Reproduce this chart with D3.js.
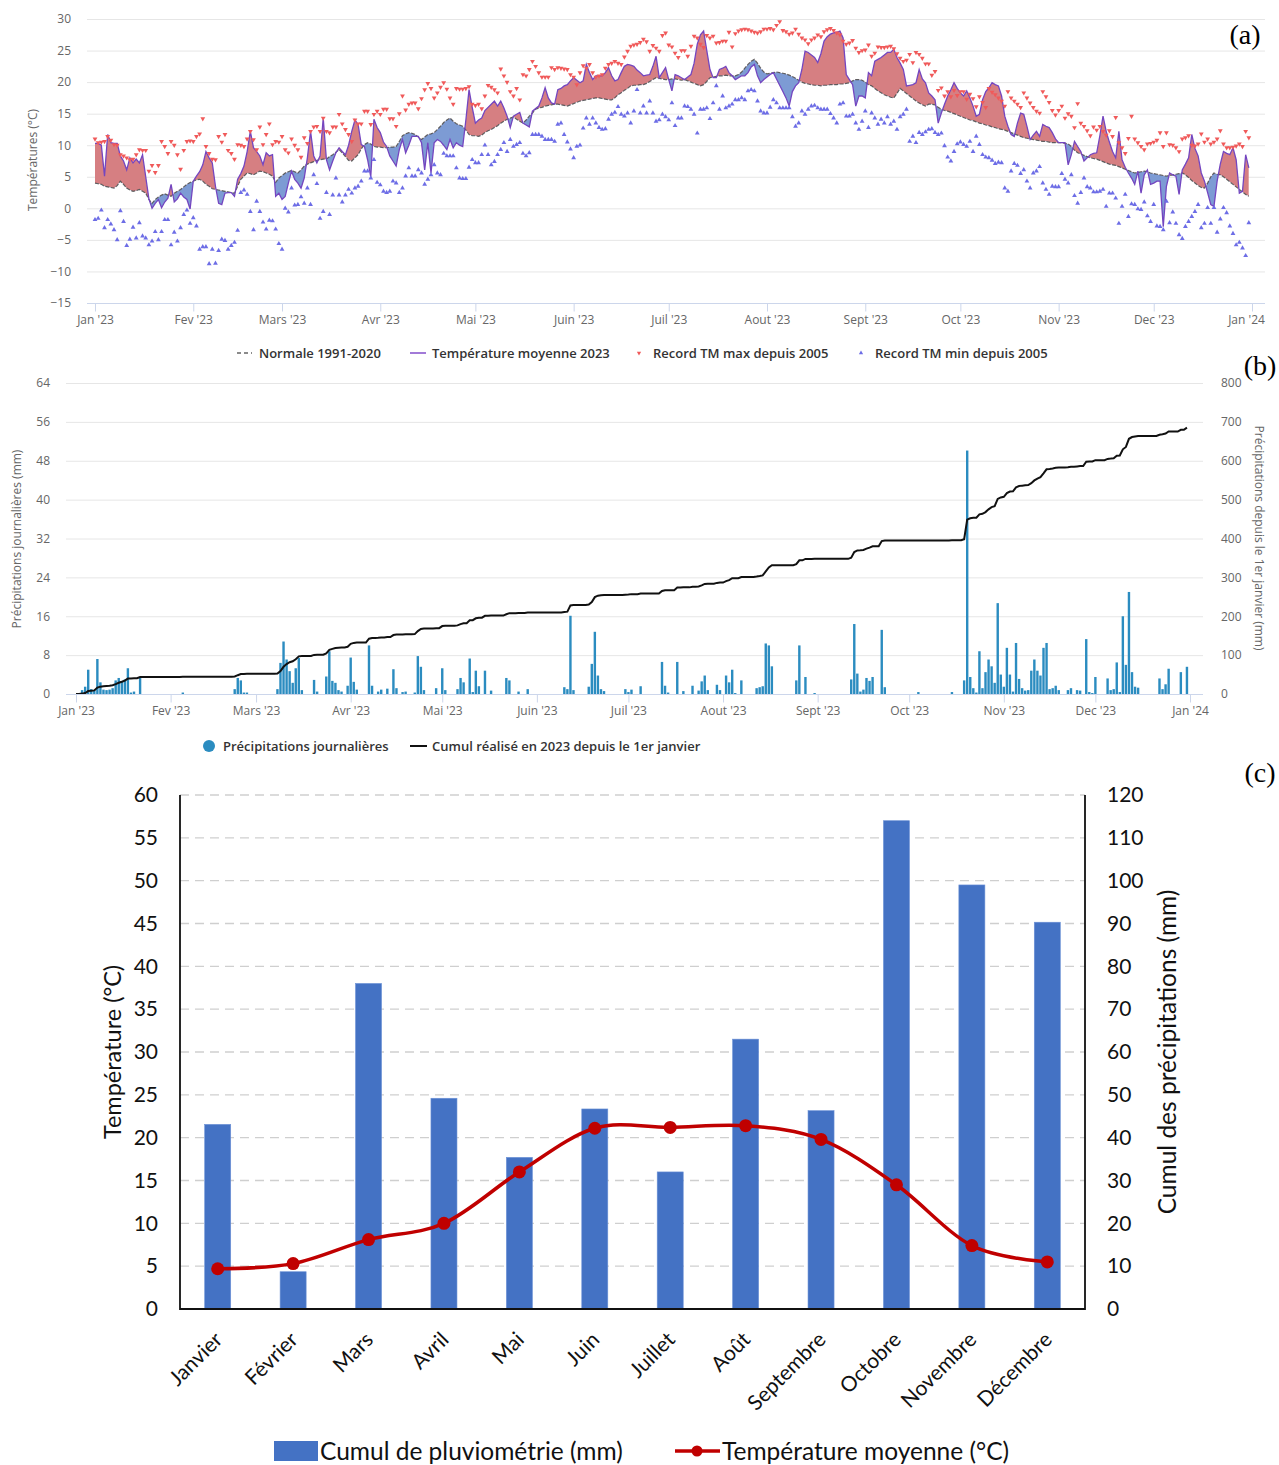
<!DOCTYPE html>
<html><head><meta charset="utf-8">
<script src="https://cdn.jsdelivr.net/npm/d3@7"></script>
<style>body{margin:0;background:#fff}svg{display:block}</style>
</head><body>
<svg id="chart" width="1279" height="1465"></svg>
<script>
// ================= DATA =================
// Panel (a) & (b): month ticks (day index from 1 Jan 2023)
const monthTickDays = [0,31,59,90,120,151,181,212,243,273,304,334,365];
const monthTickLabels = ["Jan '23","Fev '23","Mars '23","Avr '23","Mai '23","Juin '23","Juil '23","Aout '23","Sept '23","Oct '23","Nov '23","Dec '23","Jan '24"];
const tempTicks = [-15,-10,-5,0,5,10,15,20,25,30];

// Panel (a): daily mean temperature 2023 (°C)
const tempMean2023 = [
10.3,10.3,10.0,5.1,11.7,10.4,10.3,10.3,8.3,7.5,6.1,8.0,7.2,7.8,7.2,8.5,5.0,1.5,0.0,0.8,1.4,0.1,1.0,1.6,3.8,1.0,1.5,2.4,1.8,1.4,-0.1,
4.3,5.1,5.8,6.9,9.0,8.0,7.2,3.5,0.8,0.6,2.4,2.5,2.5,1.9,4.6,5.5,6.7,9.0,12.2,9.6,9.0,8.3,6.9,8.8,8.3,8.5,1.9,2.4,
1.4,1.9,4.0,5.9,4.6,4.0,3.2,4.8,8.0,12.2,8.3,7.2,8.3,14.3,7.7,6.1,7.5,8.8,9.6,9.0,8.5,10.0,12.2,14.0,13.3,10.1,9.8,7.7,5.0,14.1,12.8,
12.0,10.5,9.8,8.3,7.5,6.7,9.3,10.9,8.8,10.0,11.4,11.4,11.4,10.4,6.1,10.4,5.6,10.4,10.9,10.6,10.0,9.3,10.9,9.6,10.4,10.0,9.8,14.0,18.8,16.0,
13.5,14.0,14.3,15.5,16.0,16.5,17.0,16.2,17.0,15.9,14.6,12.8,14.6,14.9,15.2,13.5,13.2,12.9,15.4,15.8,16.2,17.5,19.1,17.5,16.7,16.5,18.8,19.0,19.4,19.6,20.2,
20.7,20.3,19.9,20.2,22.8,21.5,20.4,21.0,21.0,21.0,21.5,22.3,21.0,20.2,20.4,21.5,22.5,22.8,22.7,22.5,21.9,21.5,21.0,21.1,21.2,22.5,24.1,20.7,21.5,22.3,
20.4,18.6,21.2,21.0,20.7,20.4,20.8,21.2,23.0,26.0,27.5,28.1,25.0,22.0,20.7,20.7,22.0,22.2,22.5,21.5,21.0,20.4,20.7,21.0,21.0,21.5,22.4,22.8,21.0,19.9,20.4,
20.8,21.2,21.5,20.5,19.5,18.5,17.5,16.2,18.5,19.4,19.9,22.0,24.9,24.7,24.3,23.9,23.1,24.5,26.5,27.2,27.6,27.8,27.9,28.1,27.0,21.2,20.4,19.6,16.2,17.8,17.8,
17.5,21.5,21.0,23.3,23.6,23.9,24.3,24.7,24.7,25.2,23.9,23.0,22.0,19.4,19.5,19.6,19.9,22.0,20.5,19.9,18.3,17.8,17.2,13.5,15.1,16.5,17.8,18.8,19.9,19.0,
18.3,17.8,18.6,17.5,16.2,14.6,14.9,17.2,18.5,19.1,19.9,19.6,19.4,17.8,14.6,13.0,11.7,11.4,13.5,15.1,14.9,13.0,10.9,11.6,12.2,11.4,13.3,13.0,12.8,12.0,11.0,
10.4,10.4,10.4,6.9,8.5,10.6,9.8,9.0,7.5,8.0,8.5,8.7,8.8,11.5,14.6,12.2,10.5,9.0,8.0,12.2,7.7,6.5,5.6,4.8,3.8,5.9,2.4,5.3,6.1,3.8,
4.0,4.3,4.3,-2.9,3.5,5.6,5.3,5.1,2.2,6.1,7.0,8.0,11.7,9.5,8.3,5.6,4.3,2.5,0.6,0.3,4.3,7.0,9.0,8.7,8.5,9.6,7.7,2.4,2.7,8.5,6.4
];
// Panel (a): daily normal 1991-2020 (°C)
const tempNormal = [
4.0,3.9,3.8,3.5,3.4,3.3,3.2,3.6,4.3,3.8,3.2,2.9,2.7,2.8,3.0,2.7,2.4,1.4,0.8,1.4,1.8,2.1,2.3,2.1,1.9,2.4,2.7,3.0,3.4,3.8,4.1,
4.3,4.5,4.6,4.3,3.8,3.5,3.1,3.0,2.9,2.8,2.7,2.6,2.5,2.4,3.5,4.6,5.1,5.6,5.5,5.3,5.6,5.9,5.8,5.6,5.4,5.1,4.1,4.8,
5.2,5.6,5.8,6.0,5.8,5.6,6.1,6.7,7.0,7.2,7.4,7.6,7.7,7.8,7.8,8.2,8.5,8.9,9.3,8.8,8.2,7.6,7.5,8.0,8.5,9.4,10.1,10.4,10.2,9.8,9.7,
9.7,9.6,9.6,9.7,9.7,9.8,10.6,11.5,11.8,12.0,11.9,11.7,11.3,10.9,11.3,11.7,11.8,12.0,12.5,13.0,13.6,14.0,14.3,13.8,13.4,13.2,13.0,12.4,11.7,11.5,
11.5,11.4,11.6,12.0,12.3,12.5,12.8,13.1,13.5,13.8,14.1,14.3,14.5,14.1,13.8,13.5,14.0,14.6,15.1,15.7,15.9,16.0,16.2,16.3,16.4,16.5,16.5,16.4,16.3,16.2,16.4,
16.6,16.8,17.0,17.1,17.2,17.3,17.4,17.5,17.5,17.4,17.3,17.2,17.2,17.5,18.0,18.3,18.7,19.0,19.4,19.5,19.5,19.6,19.6,19.8,20.1,20.4,20.7,20.6,20.5,20.4,
20.4,20.5,20.5,20.4,20.3,20.4,20.2,20.0,19.8,19.6,19.4,19.6,20.1,20.7,20.8,20.9,21.0,21.0,21.1,21.0,21.0,21.0,21.2,21.6,22.2,22.8,23.3,23.6,23.0,22.2,21.6,
21.3,21.4,21.5,21.6,21.5,21.4,21.3,21.1,20.9,20.6,20.3,20.0,19.8,19.7,19.6,19.5,19.5,19.4,19.5,19.5,19.6,19.6,19.6,19.7,19.7,19.8,19.9,20.2,20.4,20.4,20.3,
20.0,19.6,19.4,19.0,18.6,18.3,18.0,17.8,17.6,17.5,18.2,19.0,18.6,18.2,17.8,17.4,17.0,16.7,16.4,16.2,16.5,16.5,16.4,16.0,15.7,15.5,15.4,15.2,15.0,14.8,
14.6,14.4,14.2,14.0,13.9,13.7,13.5,13.4,13.2,13.1,12.9,12.8,12.6,12.5,12.4,12.2,12.0,11.8,11.6,11.4,11.2,11.1,11.0,10.9,10.8,10.7,10.6,10.6,10.5,10.4,10.4,
10.4,10.4,10.3,10.2,9.8,9.2,8.8,8.6,8.4,8.2,8.0,7.9,7.8,7.6,7.4,7.2,7.0,6.9,6.8,6.6,6.4,6.2,6.0,5.8,5.6,5.7,5.8,5.9,5.8,5.6,
5.5,5.4,5.3,5.2,5.1,5.2,5.3,5.4,5.5,5.6,5.3,4.9,4.4,4.0,3.6,3.3,3.2,4.0,5.0,5.6,5.4,5.3,5.0,4.6,4.2,3.8,3.4,3.0,2.6,2.2,1.9
];
// Panel (a): record of daily mean max since 2005 (°C)
const recordMax = [
11,10.4,10.5,10.6,11.4,10.8,10.1,10,8.5,8.3,8,7.7,7.8,8.5,9.3,9.2,9.2,5.9,6.8,5.7,6.8,10.6,9.8,8.7,10.6,10,8.5,6.2,9.2,10.6,10.7,
10.6,11.4,11.8,14.2,9.8,8.7,7.8,7.7,11.4,10.5,11.7,9.2,8.7,7.8,10.1,10,9.8,11,12.2,10.9,9.3,12.9,10.1,11.7,13.4,10.1,10.6,10.5,
11.4,9.3,8.8,11,10,9.3,8.1,11.2,10.3,12.2,12.9,13,12.2,14.3,12.2,12,12.9,12.9,14.9,13.4,12.5,11.7,10.6,14,13.4,13.4,15.4,15.4,13.3,14.9,15.4,
14.9,15.7,15.7,14.2,14.2,13,15,17.8,15.6,16.5,16.7,16.7,15.8,17.4,18.8,19.8,19.0,17.5,18.3,19.2,19.9,18.9,17.5,16.5,19.0,18.9,18.9,19.0,19.3,16.5,
16.3,16.5,15.8,17.8,19.5,19.2,18.8,18.3,22.1,21.0,20.0,18.5,17.8,19.0,17.2,21.2,21.0,22.0,23.3,22.5,21.5,20.8,20.8,20.8,22.3,22.0,22.3,22.2,22.1,22.0,21.2,
20.8,19.6,21.5,22.6,22.2,22.8,21.5,20.8,21.0,21.2,22.2,22.8,23.0,23.3,23.0,22.8,24.0,24.9,25.7,25.9,26.0,26.3,26.8,26.4,24.9,25.8,25.4,24.9,27.4,27.8,
25.9,25.6,24.6,23.9,25.0,25.0,24.1,25.7,27.3,27.0,26.0,25.5,27.4,27.0,27.3,26.2,26.3,26.5,26.5,27.9,25.6,27.7,28.1,28.3,28.4,28.3,28.1,27.9,27.8,28.0,28.4,
28.4,28.5,28.3,29.0,29.6,28.2,28.0,27.6,27.8,28.4,27.6,27.0,26.7,26.1,26.7,27.0,27.5,27.2,28.0,28.3,28.5,28.2,27.8,27.5,26.5,26.0,26.2,26.6,25.4,24.7,25.0,
25.1,25.9,24.1,24.6,25.6,25.5,25.5,25.6,25.7,25.3,24.5,23.8,23.3,23.5,24.4,23.1,24.7,24.4,23.8,22.9,22.9,21.1,21.7,18.7,19.1,17.8,18.5,17.7,18.7,17.9,
18.5,18.5,17.3,18.1,17.4,16.1,17.7,16.8,16.0,19.0,18.4,18.0,17.5,17.0,16.2,18.5,17.5,17.0,16.5,16.0,18.3,17.5,16.7,16.0,15.4,15.1,18.5,17.7,16.8,15.5,14.8,
15.5,16.2,14.3,15.0,14.6,12.8,16.6,13.5,13.0,12.3,11.5,12.9,12.4,13.0,12.2,11.6,12.3,11.4,14.4,10.4,9.6,8.7,11.1,14.6,11.0,10.4,9.8,9.3,10.2,10.3,
10.5,10.8,12.0,9.8,12.0,10.1,10.0,9.6,9.0,11.0,11.2,11.5,10.0,9.9,10.2,11.8,10.5,11.0,10.2,10.5,11.0,12.3,10.2,9.6,9.6,9.7,9.9,10.2,9.8,12.2,11.2
];
// Panel (a): record of daily mean min since 2005 (°C)
const recordMin = [
-1.8,-1.6,-0.3,-3.1,-1.8,-2.5,-3.4,-5.0,-0.4,-2.1,-5.9,-4.9,-3.0,-4.7,-2.3,-4.4,-4.7,-5.8,-5.2,-3.7,-5.0,-3.7,-1.8,-1.8,-5.8,-3.8,-5.2,-3.1,-1.0,-0.3,-2.4,
-1.5,-2.8,-6.5,-6.1,-6.1,-8.8,-6.5,-8.7,-6.7,-4.9,-5.1,-6.5,-5.9,-5.4,-3.5,2.5,2.9,2.2,-0.5,-3.4,1.1,-0.5,-2.2,-3.3,-1.9,-2.0,-3.3,-5.6,
-6.5,0,-0.6,3.2,0.5,0.6,1.8,0.8,3.2,0.6,5.3,3.9,-1.6,-0.5,2.5,-1.0,2.1,4.8,2.1,1.0,2.1,3.0,2.4,3.2,3.5,4.3,5.9,5.9,4.8,7.7,4.1,
3.7,2.7,2.5,2.7,4.3,4.0,2.5,3.2,5.1,6.4,5.1,5.1,6.1,5.6,3.8,4.6,5.3,6.9,5.6,5.3,8.7,8.3,8.3,8.3,6.4,4.8,4.7,4.7,6.5,7.7,
7.2,7.2,8.5,10.0,8.5,6.9,7.4,8.5,9.3,10.4,9.0,10.9,9.8,10.1,10.4,8.7,8.3,8.8,11.7,11.7,11.7,11.4,10.9,10.9,10.9,10.6,13.3,13.5,11.7,10.5,9.4,
8.0,9.8,10.0,12.7,14.3,13.3,14.3,13.5,12.8,12.5,12.6,14.1,14.9,15.2,16.1,14.9,14.6,15.1,13.5,15.4,18.8,15.1,16.2,15.1,17.0,15.1,13.8,14.0,14.9,14.5,
14.0,16.7,13.1,14.3,14.3,16.2,16.1,15.7,14.9,11.9,15.7,15.7,15.9,14.2,16.7,19.4,15.7,17.8,15.9,16.2,16.5,17.2,17.2,17.5,17.2,18.6,18.8,18.6,17.0,15.4,15.1,
15.1,16.0,17.2,16.7,15.9,15.9,15.9,15.9,14.5,13.0,13.5,15.4,14.9,15.7,16.2,16.3,15.9,15.7,15.7,15.7,15.0,14.3,13.5,16.5,16.7,14.6,14.6,14.9,13.5,12.5,13.8,
15.4,12.8,15.1,14.3,13.3,14.1,13.5,14.5,13.3,13.8,12.5,14.5,14.9,15.7,10.6,11.4,10.4,12.0,11.7,12.1,12.5,12.6,12.0,11.7,11.9,9.9,8.1,7.5,9.0,10.2,
10.5,10.1,9.8,10.6,9.0,11.4,10.1,8.5,8.1,8.0,7.6,7.1,7.3,7.2,3.2,2.7,5.9,7.1,6.8,5.5,6.1,4.3,3.2,5.6,5.9,6.6,4.0,3.0,2.2,3.5,3.4,
3.4,5.5,4.6,4.0,5.3,2.0,0.8,2.5,4.8,3.4,3.2,2.6,2.6,2.7,3.0,0.3,2.4,2.4,1.6,-2.4,0.3,2.2,-1.3,0.7,0.6,-0.1,-0.2,1.0,-1.2,-2.1,
0.6,-2.8,-2.9,-3.4,1.1,-2.3,-0.6,-2.4,-4.2,-4.8,-2.9,-2.1,-1.3,-0.5,0.6,-3.1,-2.4,0.1,-2.4,0.1,-3.8,-1.7,0.1,-0.7,-2.8,-4.0,-5.8,-5.4,-6.3,-7.5,-2.3
];

// Panel (b): daily precipitation 2023 (mm)
const precipDaily = [
0,0.2,0.8,1.5,5.0,1.0,0.8,7.2,2.4,0.9,0.8,0.9,1.2,2.8,3.3,2.6,3.0,5.3,0.3,0.5,0,3.3,0,0,0,0,0,0,0,0,0,
0,0,0,0,0.3,0,0,0,0,0,0,0,0,0,0,0,0,0,0,0,0,1.0,3.3,2.8,0.3,0.3,0,0,
0,0,0,0,0,0,0,1.0,6.4,10.8,7.1,4.7,2.3,5.3,7.4,0.8,0,0,0,2.9,0.5,0,0,3.6,8.8,2.7,2.3,0.8,0.5,0,1.7,
7.5,2.5,0.9,0,0,0,10.0,1.7,0,0.5,0.9,0,1.1,0,5.1,1.2,0,0.4,0.5,0,0,0.3,7.8,5.6,0.8,0,0,0,1.2,0,
5.3,0.8,0,0,0,1.0,3.3,2.4,0,7.3,0.4,4.8,1.6,0,4.8,0,0.7,0,0,0,0,3.3,2.8,0,0,0.5,0,0,1.0,0,0,
0,0,0,0,0,0,0,0,0,1.4,1.0,16.1,0.8,0,0,0,0,1.5,6.2,12.8,3.8,1.0,0.6,0,0,0,0,0,0,1.0,
0.4,0.9,0,0,1.6,0,0,0,0,0,0,6.6,1.7,0.3,0,0,6.6,0,0.6,0,0,1.7,0,0.7,2.6,3.8,0.8,0,0,1.9,0.8,
0,3.8,2.4,5.0,0.2,0,2.8,0,0,0,0,1.2,1.4,1.6,10.4,10.0,5.7,0,0,0,0,0,0,0,2.8,10.0,0,3.5,0,0,0.2,
0,0,0,0,0,0,0,0,0,0,0,3.0,14.4,4.2,0.5,0.9,3.3,2.7,3.5,0,0,13.2,1.4,0,0,0,0,0,0,0,
0,0,0,0.4,0,0,0,0,0,0,0,0,0,0,0.4,0,0,0,2.8,50.1,3.5,1.2,0.3,8.8,1.2,4.5,7.1,5.7,2.3,18.7,4.0,
1.5,9.5,4.0,0.5,10.5,3.1,1.2,0.7,0.8,4.8,7.1,4.8,3.8,9.5,10.5,1.0,1.2,1.7,0.8,0,0,0.8,1.2,0,0.8,0.7,0,11.3,0.4,0.2,
3.5,0,0,0,3.2,0.8,1.0,6.5,0.4,16.0,6.0,21.0,4.5,1.5,1.3,0,0,0,0,0,0,3.2,1.0,2.0,5.2,0,0,0,4.5,0,5.6
];
const precipLeftTicks = [0,8,16,24,32,40,48,56,64];
const precipRightTicks = [0,100,200,300,400,500,600,700,800];

// Panel (c): monthly values
const monthsFr = ["Janvier","Février","Mars","Avril","Mai","Juin","Juillet","Août","Septembre","Octobre","Novembre","Décembre"];
const monthlyRain = [43.1,8.7,76.0,49.2,35.4,46.7,32.0,63.0,46.3,114.0,99.0,90.3];
const monthlyTemp = [4.7,5.3,8.1,10.0,16.0,21.1,21.2,21.4,19.8,14.5,7.4,5.5];
const tempTicksC = [0,5,10,15,20,25,30,35,40,45,50,55,60];
const rainTicksC = [0,10,20,30,40,50,60,70,80,90,100,110,120];

// ================= DRAWING =================
const svg = d3.select("#chart");
svg.append("rect").attr("width",1279).attr("height",1465).attr("fill","#fff");
const hcFont = "'Open Sans', sans-serif";
const days = d3.range(tempMean2023.length);

// ---------- Panel (a) ----------
const A = {left:87, right:1265};
const xA = d3.scaleLinear().domain([0,365]).range([95,1252]);
const yA = d3.scaleLinear().domain([-15,30]).range([303,19]);
const gA = svg.append("g").attr("font-family",hcFont);
const fmtMinus = d => d < 0 ? "\u2212" + Math.abs(d) : String(d);

const gyA = gA.append("g").attr("transform",`translate(${A.left},0)`)
  .call(d3.axisLeft(yA).tickValues(tempTicks).tickSize(-(A.right-A.left)).tickPadding(16).tickFormat(fmtMinus));
gyA.select(".domain").remove();
gyA.selectAll(".tick line").attr("stroke","#e6e6e6");
gyA.selectAll(".tick text").attr("fill","#666").attr("font-size",12).attr("font-family",hcFont);

const defs = svg.append("defs");
const clipAbove = d3.area().x(d=>xA(d)).y0(0).y1(d=>yA(tempNormal[d]));
const clipBelow = d3.area().x(d=>xA(d)).y0(340).y1(d=>yA(tempNormal[d]));
defs.append("clipPath").attr("id","cAbove").append("path").attr("d",clipAbove(days));
defs.append("clipPath").attr("id","cBelow").append("path").attr("d",clipBelow(days));
const between = d3.area().x(d=>xA(d)).y0(d=>yA(tempNormal[d])).y1(d=>yA(tempMean2023[d]));
gA.append("path").attr("d",between(days)).attr("fill","#d67f82").attr("clip-path","url(#cAbove)");
gA.append("path").attr("d",between(days)).attr("fill","#7d9bd4").attr("clip-path","url(#cBelow)");

gA.append("path").attr("d",d3.line().x(d=>xA(d)).y(d=>yA(tempNormal[d]))(days))
  .attr("fill","none").attr("stroke","#4a4a4a").attr("stroke-width",1.2).attr("stroke-dasharray","4,1.5").attr("opacity",0.85);
gA.append("path").attr("d",d3.line().x(d=>xA(d)).y(d=>yA(tempMean2023[d]))(days))
  .attr("fill","none").attr("stroke","#7446c0").attr("stroke-width",1.3);

const tri = d3.symbol().type(d3.symbolTriangle).size(10);
gA.append("g").selectAll("path").data(days).join("path")
  .attr("d",tri).attr("fill","#f05a5a")
  .attr("transform",d=>`translate(${xA(d)},${yA(recordMax[d])}) rotate(180)`);
gA.append("g").selectAll("path").data(days).join("path")
  .attr("d",tri).attr("fill","#6d6de6")
  .attr("transform",d=>`translate(${xA(d)},${yA(recordMin[d])})`);

// x axis (a)
gA.append("line").attr("x1",A.left).attr("x2",A.right).attr("y1",303.5).attr("y2",303.5).attr("stroke","#ccd6eb");
const gxA = gA.append("g").attr("transform","translate(0,303.5)")
  .call(d3.axisBottom(xA).tickValues(monthTickDays).tickSize(8).tickPadding(4).tickFormat((d,i)=>monthTickLabels[i]));
gxA.select(".domain").remove();
gxA.selectAll(".tick line").attr("stroke","#ccd6eb");
gxA.selectAll(".tick text").attr("fill","#666").attr("font-size",12).attr("font-family",hcFont);
gxA.selectAll(".tick text").filter((d,i)=>i===monthTickDays.length-1).attr("dx",-6);

gA.append("text").attr("transform","translate(37,160) rotate(-90)").attr("text-anchor","middle")
  .attr("fill","#666").attr("font-size",12).text("Températures (°C)");

// legend (a)
const lgA = gA.append("g").attr("font-size",13).attr("font-weight",600).attr("fill","#333");
lgA.append("line").attr("x1",237).attr("x2",252).attr("y1",353).attr("y2",353).attr("stroke","#666").attr("stroke-width",1.5).attr("stroke-dasharray","4,3");
lgA.append("text").attr("x",259).attr("y",353).attr("dy","0.35em").text("Normale 1991-2020");
lgA.append("line").attr("x1",410).attr("x2",426).attr("y1",353).attr("y2",353).attr("stroke","#a27ad8").attr("stroke-width",2);
lgA.append("text").attr("x",432).attr("y",353).attr("dy","0.35em").text("Température moyenne 2023");
lgA.append("path").attr("d",d3.symbol().type(d3.symbolTriangle).size(8)).attr("fill","#f05a5a").attr("transform","translate(639,353) rotate(180)");
lgA.append("text").attr("x",653).attr("y",353).attr("dy","0.35em").text("Record TM max depuis 2005");
lgA.append("path").attr("d",d3.symbol().type(d3.symbolTriangle).size(8)).attr("fill","#6d6de6").attr("transform","translate(861,353)");
lgA.append("text").attr("x",875).attr("y",353).attr("dy","0.35em").text("Record TM min depuis 2005");

// ---------- Panel (b) ----------
const B = {left:66, right:1203};
const xB = d3.scaleLinear().domain([0,365]).range([76,1190]);
const yBL = d3.scaleLinear().domain([0,64]).range([694,383]);
const yBR = d3.scaleLinear().domain([0,800]).range([694,383]);
const gB = svg.append("g").attr("font-family",hcFont);
const gyB = gB.append("g").attr("transform",`translate(${B.left},0)`)
  .call(d3.axisLeft(yBL).tickValues(precipLeftTicks).tickSize(-(B.right-B.left)).tickPadding(16));
gyB.select(".domain").remove();
gyB.selectAll(".tick line").attr("stroke","#e6e6e6");
gyB.selectAll(".tick text").attr("fill","#666").attr("font-size",12).attr("font-family",hcFont);
const gyB2 = gB.append("g").attr("transform",`translate(${B.right},0)`)
  .call(d3.axisRight(yBR).tickValues(precipRightTicks).tickSize(0).tickPadding(18));
gyB2.select(".domain").remove();
gyB2.selectAll(".tick text").attr("fill","#666").attr("font-size",12).attr("font-family",hcFont);

gB.append("g").selectAll("rect").data(days.filter(d=>precipDaily[d]>0)).join("rect")
  .attr("x",d=>xB(d)-1.2).attr("width",2.4)
  .attr("y",d=>yBL(precipDaily[d])).attr("height",d=>yBL(0)-yBL(precipDaily[d]))
  .attr("fill","#2b8cc0");

const cumul = Array.from(d3.cumsum(precipDaily));
gB.append("path").attr("d",d3.line().x(d=>xB(d)).y(d=>yBR(cumul[d]))(days))
  .attr("fill","none").attr("stroke","#111").attr("stroke-width",2);

gB.append("line").attr("x1",B.left).attr("x2",B.right).attr("y1",694.5).attr("y2",694.5).attr("stroke","#ccd6eb");
const gxB = gB.append("g").attr("transform","translate(0,694.5)")
  .call(d3.axisBottom(xB).tickValues(monthTickDays).tickSize(8).tickPadding(4).tickFormat((d,i)=>monthTickLabels[i]));
gxB.select(".domain").remove();
gxB.selectAll(".tick line").attr("stroke","#ccd6eb");
gxB.selectAll(".tick text").attr("fill","#666").attr("font-size",12).attr("font-family",hcFont);

gB.append("text").attr("transform","translate(21,539) rotate(-90)").attr("text-anchor","middle")
  .attr("fill","#666").attr("font-size",12).text("Précipitations journalières (mm)");
gB.append("text").attr("transform","translate(1255,538) rotate(90)").attr("text-anchor","middle")
  .attr("fill","#666").attr("font-size",12).text("Précipitations depuis le 1er janvier (mm)");

const lgB = gB.append("g").attr("font-size",13).attr("font-weight",600).attr("fill","#333");
lgB.append("circle").attr("cx",209).attr("cy",746).attr("r",6).attr("fill","#2b8cc0");
lgB.append("text").attr("x",223).attr("y",746).attr("dy","0.35em").text("Précipitations journalières");
lgB.append("line").attr("x1",410).attr("x2",427).attr("y1",746).attr("y2",746).attr("stroke","#111").attr("stroke-width",2);
lgB.append("text").attr("x",432).attr("y",746).attr("dy","0.35em").text("Cumul réalisé en 2023 depuis le 1er janvier");

// ---------- Panel (c) ----------
const cFont = "Lato, 'Open Sans', sans-serif";
const C = {left:180, right:1085, top:795, bottom:1309};
const xC = d3.scaleBand().domain(monthsFr).range([C.left,C.right]).paddingInner(0.655).paddingOuter(0.3275);
const yCL = d3.scaleLinear().domain([0,60]).range([C.bottom,C.top]);
const yCR = d3.scaleLinear().domain([0,120]).range([C.bottom,C.top]);
const gC = svg.append("g").attr("font-family",cFont);

const gyC = gC.append("g").attr("transform",`translate(${C.left},0)`)
  .call(d3.axisLeft(yCL).tickValues(tempTicksC).tickSize(0).tickPadding(22));
gyC.select(".domain").remove();
gyC.selectAll(".tick text").attr("fill","#111").attr("font-size",21).attr("font-family",cFont);
const gyC2 = gC.append("g").attr("transform",`translate(${C.right},0)`)
  .call(d3.axisRight(yCR).tickValues(rainTicksC).tickSize(0).tickPadding(22));
gyC2.select(".domain").remove();
gyC2.selectAll(".tick text").attr("fill","#111").attr("font-size",21).attr("font-family",cFont);

// dashed gridlines
gC.append("g").selectAll("line").data(tempTicksC.filter(v=>v>0)).join("line")
  .attr("x1",C.left).attr("x2",C.right).attr("y1",d=>yCL(d)).attr("y2",d=>yCL(d))
  .attr("stroke","#cfcfcf").attr("stroke-width",1.3).attr("stroke-dasharray","9,6");

// bars
gC.append("g").selectAll("rect").data(monthsFr).join("rect")
  .attr("x",m=>xC(m)).attr("width",xC.bandwidth())
  .attr("y",(m,i)=>yCR(monthlyRain[i])).attr("height",(m,i)=>yCR(0)-yCR(monthlyRain[i]))
  .attr("fill","#4472c4").attr("stroke","#6b91d6").attr("stroke-width",0.6);

// axes lines
gC.append("path").attr("d",`M${C.left},${C.top}V${C.bottom}H${C.right}V${C.top}`)
  .attr("fill","none").attr("stroke","#111").attr("stroke-width",1.8);

// temperature line
const cx = m => xC(m) + xC.bandwidth()/2;
const tempPts = monthsFr.map((m,i)=>[cx(m), yCL(monthlyTemp[i])]);
gC.append("path").attr("d",d3.line().curve(d3.curveCardinal.tension(0))(tempPts))
  .attr("fill","none").attr("stroke","#c00000").attr("stroke-width",3.5);
gC.append("g").selectAll("circle").data(tempPts).join("circle")
  .attr("cx",d=>d[0]).attr("cy",d=>d[1]).attr("r",6.5).attr("fill","#c00000");

// x labels rotated
gC.append("g").selectAll("text").data(monthsFr).join("text")
  .attr("transform",m=>`translate(${cx(m)+6},${C.bottom+32}) rotate(-45)`)
  .attr("text-anchor","end").attr("font-size",21).attr("fill","#111").text(m=>m);

// axis titles
gC.append("text").attr("transform","translate(121,1052) rotate(-90)").attr("text-anchor","middle")
  .attr("font-size",23.5).attr("fill","#111").text("Température (°C)");
gC.append("text").attr("transform","translate(1176,1052) rotate(-90)").attr("text-anchor","middle")
  .attr("font-size",24.5).attr("fill","#111").text("Cumul des précipitations (mm)");

// legend (c)
gC.append("rect").attr("x",274).attr("y",1441).attr("width",44).attr("height",20).attr("fill","#4472c4");
gC.append("text").attr("x",320).attr("y",1451).attr("dy","0.36em").attr("font-size",24.5).attr("fill","#111").text("Cumul de pluviométrie (mm)");
gC.append("line").attr("x1",675).attr("x2",720).attr("y1",1451).attr("y2",1451).attr("stroke","#c00000").attr("stroke-width",3.5);
gC.append("circle").attr("cx",697).attr("cy",1451).attr("r",5.5).attr("fill","#c00000");
gC.append("text").attr("x",722).attr("y",1451).attr("dy","0.36em").attr("font-size",24.5).attr("fill","#111").text("Température moyenne (°C)");

// panel letters
const serif = "'Liberation Serif', 'Times New Roman', serif";
svg.append("text").attr("x",1245).attr("y",44).attr("text-anchor","middle").attr("font-family",serif).attr("font-size",28).text("(a)");
svg.append("text").attr("x",1260).attr("y",375).attr("text-anchor","middle").attr("font-family",serif).attr("font-size",28).text("(b)");
svg.append("text").attr("x",1260).attr("y",782).attr("text-anchor","middle").attr("font-family",serif).attr("font-size",28).text("(c)");
</script>
</body></html>
